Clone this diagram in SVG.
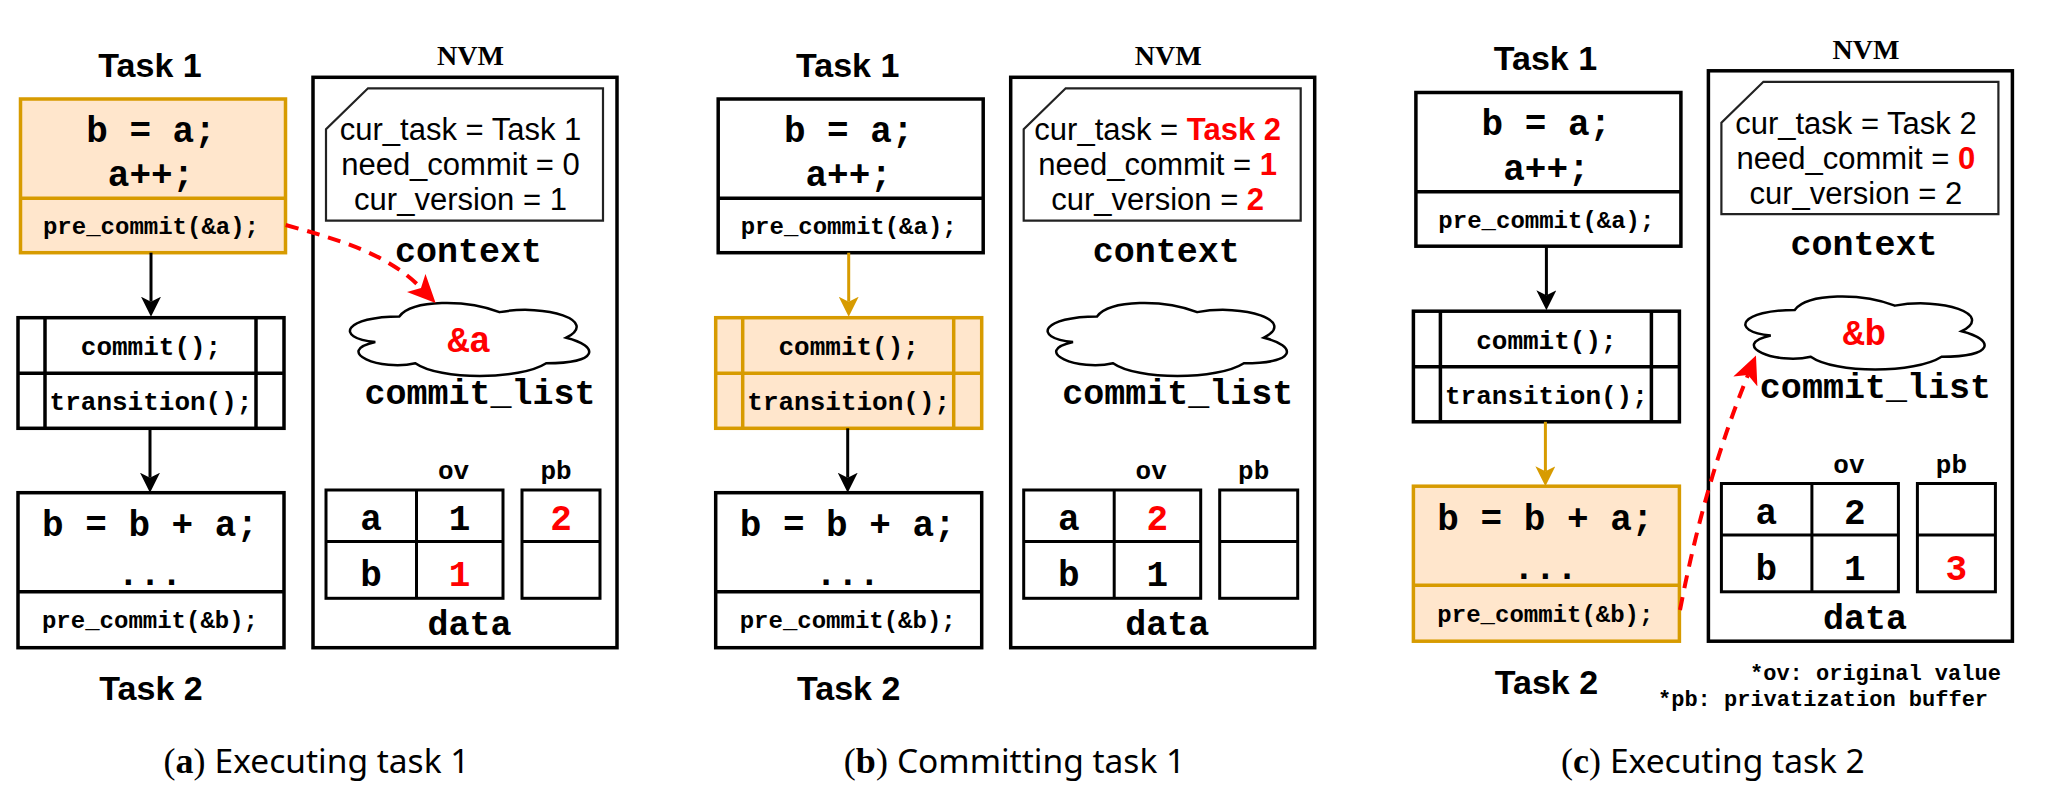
<svg xmlns="http://www.w3.org/2000/svg" xmlns:xlink="http://www.w3.org/1999/xlink" width="2060" height="798" viewBox="0 0 2060 798">
<style>
.bg{fill:#fff}
.box{fill:#fff;stroke:#000;stroke-width:3.5}
.obox{fill:#FFE6CC;stroke:#D79B00;stroke-width:3.5}
.ln{stroke:#000;stroke-width:3.5}
.oln{stroke:#D79B00;stroke-width:3.5}
.card{fill:#fff;stroke:#222;stroke-width:2.2}
.tbl{fill:#fff;stroke:#000;stroke-width:3}
.tln{stroke:#000;stroke-width:3}
.task{font-family:"Liberation Sans",Arial,sans-serif;font-weight:bold;font-size:34px;text-anchor:middle}
.nvm{font-family:"Liberation Serif","Times New Roman",serif;font-weight:bold;font-size:28px;text-anchor:middle}
.var{font-family:"Liberation Sans",Arial,sans-serif;font-size:31px;text-anchor:middle}
.hl{fill:#FF0000;font-weight:bold}
.m{font-family:"Liberation Mono","Courier New",monospace;font-weight:bold;text-anchor:middle}
.big{font-size:36px}
.mid{font-size:26px}
.sm{font-size:24px}
.lbl{font-size:35px}
.hd{font-size:26px}
.red{fill:#FF0000}
.foot{font-family:"Liberation Mono","Courier New",monospace;font-weight:bold;font-size:22px}
.cap{font-family:"Noto Sans","Liberation Sans",sans-serif;font-size:33.5px;text-anchor:middle}
.capser{font-family:"Liberation Serif","Times New Roman",serif;font-size:36px}
.blk{stroke:#000;stroke-width:3;fill:none}
.gld{stroke:#D79B00;stroke-width:3;fill:none}
.rdash{stroke:#FF0000;stroke-width:4;fill:none;stroke-dasharray:13 9}
</style>
<defs>
<marker id="arrB" markerUnits="userSpaceOnUse" markerWidth="20" markerHeight="20" viewBox="0 0 20 20" refX="5" refY="10" orient="auto"><path d="M0,0 L20,10 L0,20 L5,10 Z" fill="#000"/></marker>
<marker id="arrG" markerUnits="userSpaceOnUse" markerWidth="20" markerHeight="20" viewBox="0 0 20 20" refX="5" refY="10" orient="auto"><path d="M0,0 L20,10 L0,20 L5,10 Z" fill="#D79B00"/></marker>
<marker id="arrR" markerUnits="userSpaceOnUse" markerWidth="28" markerHeight="26" viewBox="0 0 28 26" refX="7" refY="13" orient="auto"><path d="M0,0 L28,13 L0,26 L7,13 Z" fill="#FF0000"/></marker>
<path id="cloudp" d="M25,25 C5,25 0,50 16,55 C0,66 18,90 31,80 C40,100 70,100 80,80 C100,80 100,60 87.5,50 C100,30 80,10 62.5,20 C50,5 30,5 25,25 Z" fill="#fff" stroke="#000" stroke-width="2.5" vector-effect="non-scaling-stroke"/>
<path id="cardp" d="M368,88.3 L603,88.3 L603,220.7 L326,220.7 L326,129.3 Z"/>
</defs>
<rect class="bg" x="0" y="0" width="2060" height="798"/>

<!-- Panel (a) -->
<g id="panel-a">
  <g id="a-task1"><text class="task" x="150" y="76.7">Task 1</text></g>
  <g id="a-block1">
    <rect class="obox" x="20.5" y="99" width="265" height="153.7"/>
    <line class="oln" x1="20.5" y1="198.3" x2="285.5" y2="198.3"/>
    <text class="m big" x="151" y="141.7">b = a;</text>
    <text class="m big" x="151" y="186">a++;</text>
    <text class="m sm" x="151" y="234">pre_commit(&amp;a);</text>
  </g>
  <g id="a-commit">
    <rect class="box" x="18" y="317.7" width="266" height="110.6"/>
    <line class="ln" x1="18" y1="373.3" x2="284" y2="373.3"/>
    <line class="ln" x1="45" y1="317.7" x2="45" y2="428.3"/>
    <line class="ln" x1="256" y1="317.7" x2="256" y2="428.3"/>
    <text class="m mid" x="151" y="355">commit();</text>
    <text class="m mid" x="151" y="410">transition();</text>
  </g>
  <g id="a-block2">
    <rect class="box" x="18" y="492.7" width="266" height="155"/>
    <line class="ln" x1="18" y1="591.7" x2="284" y2="591.7"/>
    <text class="m big" x="150" y="536">b = b + a;</text>
    <text class="m big" x="150" y="585">...</text>
    <text class="m sm" x="150" y="628">pre_commit(&amp;b);</text>
  </g>
  <g id="a-task2"><text class="task" x="151" y="700">Task 2</text></g>
  <g id="a-nvm">
    <text class="nvm" x="470.5" y="65">NVM</text>
    <rect class="box" x="313" y="77.3" width="304" height="570.4"/>
  </g>
  <g id="a-context">
    <use href="#cardp" class="card"/>
    <text class="var" x="460.5" y="140">cur_task = Task 1</text>
    <text class="var" x="460.5" y="175">need_commit = 0</text>
    <text class="var" x="460.5" y="210">cur_version = 1</text>
    <text class="m lbl" x="468.5" y="261.7">context</text>
  </g>
  <g id="a-commit-list">
    <use href="#cloudp" transform="translate(332.6,295.1) scale(2.67,0.852)"/>
    <text class="m big red" x="469" y="351.7">&amp;a</text>
    <text class="m lbl" x="480" y="404">commit_list</text>
  </g>
  <g id="a-data">
    <text class="m hd" x="453.5" y="479">ov</text>
    <text class="m hd" x="556" y="479">pb</text>
    <rect class="tbl" x="326" y="490" width="177" height="108.3"/>
    <line class="tln" x1="416.5" y1="490" x2="416.5" y2="598.3"/>
    <line class="tln" x1="326" y1="541.5" x2="503" y2="541.5"/>
    <rect class="tbl" x="522" y="490" width="78" height="108.3"/>
    <line class="tln" x1="522" y1="541.5" x2="600" y2="541.5"/>
    <text class="m big" x="371" y="530">a</text>
    <text class="m big" x="459.5" y="530">1</text>
    <text class="m big red" x="561" y="530">2</text>
    <text class="m big" x="371" y="586">b</text>
    <text class="m big red" x="459.5" y="586">1</text>
    <text class="m lbl" x="469.5" y="635">data</text>
  </g>
</g>

<!-- Panel (b) -->
<g id="panel-b" transform="translate(697.7,0)">
  <g id="b-task1"><text class="task" x="150" y="76.7">Task 1</text></g>
  <g id="b-block1">
    <rect class="box" x="20.5" y="99" width="265" height="153.7"/>
    <line class="ln" x1="20.5" y1="198.3" x2="285.5" y2="198.3"/>
    <text class="m big" x="151" y="141.7">b = a;</text>
    <text class="m big" x="151" y="186">a++;</text>
    <text class="m sm" x="151" y="234">pre_commit(&amp;a);</text>
  </g>
  <g id="b-commit">
    <rect class="obox" x="18" y="317.7" width="266" height="110.6"/>
    <line class="oln" x1="18" y1="373.3" x2="284" y2="373.3"/>
    <line class="oln" x1="45" y1="317.7" x2="45" y2="428.3"/>
    <line class="oln" x1="256" y1="317.7" x2="256" y2="428.3"/>
    <text class="m mid" x="151" y="355">commit();</text>
    <text class="m mid" x="151" y="410">transition();</text>
  </g>
  <g id="b-block2">
    <rect class="box" x="18" y="492.7" width="266" height="155"/>
    <line class="ln" x1="18" y1="591.7" x2="284" y2="591.7"/>
    <text class="m big" x="150" y="536">b = b + a;</text>
    <text class="m big" x="150" y="585">...</text>
    <text class="m sm" x="150" y="628">pre_commit(&amp;b);</text>
  </g>
  <g id="b-task2"><text class="task" x="151" y="700">Task 2</text></g>
  <g id="b-nvm">
    <text class="nvm" x="470.5" y="65">NVM</text>
    <rect class="box" x="313" y="77.3" width="304" height="570.4"/>
  </g>
  <g id="b-context">
    <use href="#cardp" class="card"/>
    <text class="var" x="460" y="140">cur_task = <tspan class="hl">Task 2</tspan></text>
    <text class="var" x="460" y="175">need_commit = <tspan class="hl">1</tspan></text>
    <text class="var" x="460" y="210">cur_version = <tspan class="hl">2</tspan></text>
    <text class="m lbl" x="468.5" y="261.7">context</text>
  </g>
  <g id="b-commit-list">
    <use href="#cloudp" transform="translate(332.6,295.1) scale(2.67,0.852)"/>
    <text class="m lbl" x="480" y="404">commit_list</text>
  </g>
  <g id="b-data">
    <text class="m hd" x="453.5" y="479">ov</text>
    <text class="m hd" x="556" y="479">pb</text>
    <rect class="tbl" x="326" y="490" width="177" height="108.3"/>
    <line class="tln" x1="416.5" y1="490" x2="416.5" y2="598.3"/>
    <line class="tln" x1="326" y1="541.5" x2="503" y2="541.5"/>
    <rect class="tbl" x="522" y="490" width="78" height="108.3"/>
    <line class="tln" x1="522" y1="541.5" x2="600" y2="541.5"/>
    <text class="m big" x="371" y="530">a</text>
    <text class="m big red" x="459.5" y="530">2</text>
    <text class="m big" x="371" y="586">b</text>
    <text class="m big" x="459.5" y="586">1</text>
    <text class="m lbl" x="469.5" y="635">data</text>
  </g>
</g>

<!-- Panel (c) -->
<g id="panel-c" transform="translate(1395.4,-6.5)">
  <g id="c-task1"><text class="task" x="150" y="76.7">Task 1</text></g>
  <g id="c-block1">
    <rect class="box" x="20.5" y="99" width="265" height="153.7"/>
    <line class="ln" x1="20.5" y1="198.3" x2="285.5" y2="198.3"/>
    <text class="m big" x="151" y="141.7">b = a;</text>
    <text class="m big" x="151" y="186">a++;</text>
    <text class="m sm" x="151" y="234">pre_commit(&amp;a);</text>
  </g>
  <g id="c-commit">
    <rect class="box" x="18" y="317.7" width="266" height="110.6"/>
    <line class="ln" x1="18" y1="373.3" x2="284" y2="373.3"/>
    <line class="ln" x1="45" y1="317.7" x2="45" y2="428.3"/>
    <line class="ln" x1="256" y1="317.7" x2="256" y2="428.3"/>
    <text class="m mid" x="151" y="355">commit();</text>
    <text class="m mid" x="151" y="410">transition();</text>
  </g>
  <g id="c-block2">
    <rect class="obox" x="18" y="492.7" width="266" height="155"/>
    <line class="oln" x1="18" y1="591.7" x2="284" y2="591.7"/>
    <text class="m big" x="150" y="536">b = b + a;</text>
    <text class="m big" x="150" y="585">...</text>
    <text class="m sm" x="150" y="628">pre_commit(&amp;b);</text>
  </g>
  <g id="c-task2"><text class="task" x="151" y="700">Task 2</text></g>
  <g id="c-nvm">
    <text class="nvm" x="470.5" y="65">NVM</text>
    <rect class="box" x="313" y="77.3" width="304" height="570.4"/>
  </g>
  <g id="c-context">
    <use href="#cardp" class="card"/>
    <text class="var" x="460.5" y="140">cur_task = Task 2</text>
    <text class="var" x="460.5" y="175">need_commit = <tspan class="hl">0</tspan></text>
    <text class="var" x="460.5" y="210">cur_version = 2</text>
    <text class="m lbl" x="468.5" y="261.7">context</text>
  </g>
  <g id="c-commit-list">
    <use href="#cloudp" transform="translate(332.6,295.1) scale(2.67,0.852)"/>
    <text class="m big red" x="469" y="351.7">&amp;b</text>
    <text class="m lbl" x="480" y="404">commit_list</text>
  </g>
  <g id="c-data">
    <text class="m hd" x="453.5" y="479">ov</text>
    <text class="m hd" x="556" y="479">pb</text>
    <rect class="tbl" x="326" y="490" width="177" height="108.3"/>
    <line class="tln" x1="416.5" y1="490" x2="416.5" y2="598.3"/>
    <line class="tln" x1="326" y1="541.5" x2="503" y2="541.5"/>
    <rect class="tbl" x="522" y="490" width="78" height="108.3"/>
    <line class="tln" x1="522" y1="541.5" x2="600" y2="541.5"/>
    <text class="m big" x="371" y="530">a</text>
    <text class="m big" x="459.5" y="530">2</text>
    <text class="m big" x="371" y="586">b</text>
    <text class="m big" x="459.5" y="586">1</text>
    <text class="m big red" x="561" y="586">3</text>
    <text class="m lbl" x="469.5" y="635">data</text>
  </g>
</g>

<g id="legend">
  <text class="foot" x="1750" y="680">*ov: original value</text>
  <text class="foot" x="1658" y="706">*pb: privatization buffer</text>
</g>

<g id="connectors">
  <g id="conn-a">
    <line class="blk" x1="151" y1="252.7" x2="151" y2="301.7" marker-end="url(#arrB)"/>
    <line class="blk" x1="150" y1="428.3" x2="150" y2="477.7" marker-end="url(#arrB)"/>
    <path class="rdash" d="M285.7,225 C340,240 388,254 421,288" marker-end="url(#arrR)"/>
  </g>
  <g id="conn-b" transform="translate(697.7,0)">
    <line class="gld" x1="151" y1="252.7" x2="151" y2="301.7" marker-end="url(#arrG)"/>
    <line class="blk" x1="150" y1="428.3" x2="150" y2="477.7" marker-end="url(#arrB)"/>
  </g>
  <g id="conn-c" transform="translate(1395.4,-6.5)">
    <line class="blk" x1="151" y1="252.7" x2="151" y2="301.7" marker-end="url(#arrB)"/>
    <line class="gld" x1="150" y1="428.3" x2="150" y2="477.7" marker-end="url(#arrG)"/>
    <path class="rdash" d="M284.6,616.5 Q309.6,486.5 352.6,381.5" marker-end="url(#arrR)"/>
  </g>
</g>

<g id="captions">
  <text class="cap" x="316.5" y="773"><tspan class="capser">(</tspan><tspan class="capser" font-weight="bold">a</tspan><tspan class="capser">) </tspan>Executing task 1</text>
  <text class="cap" x="1014.5" y="773"><tspan class="capser">(</tspan><tspan class="capser" font-weight="bold">b</tspan><tspan class="capser">) </tspan>Committing task 1</text>
  <text class="cap" x="1712.9" y="773"><tspan class="capser">(</tspan><tspan class="capser" font-weight="bold">c</tspan><tspan class="capser">) </tspan>Executing task 2</text>
</g>
</svg>
